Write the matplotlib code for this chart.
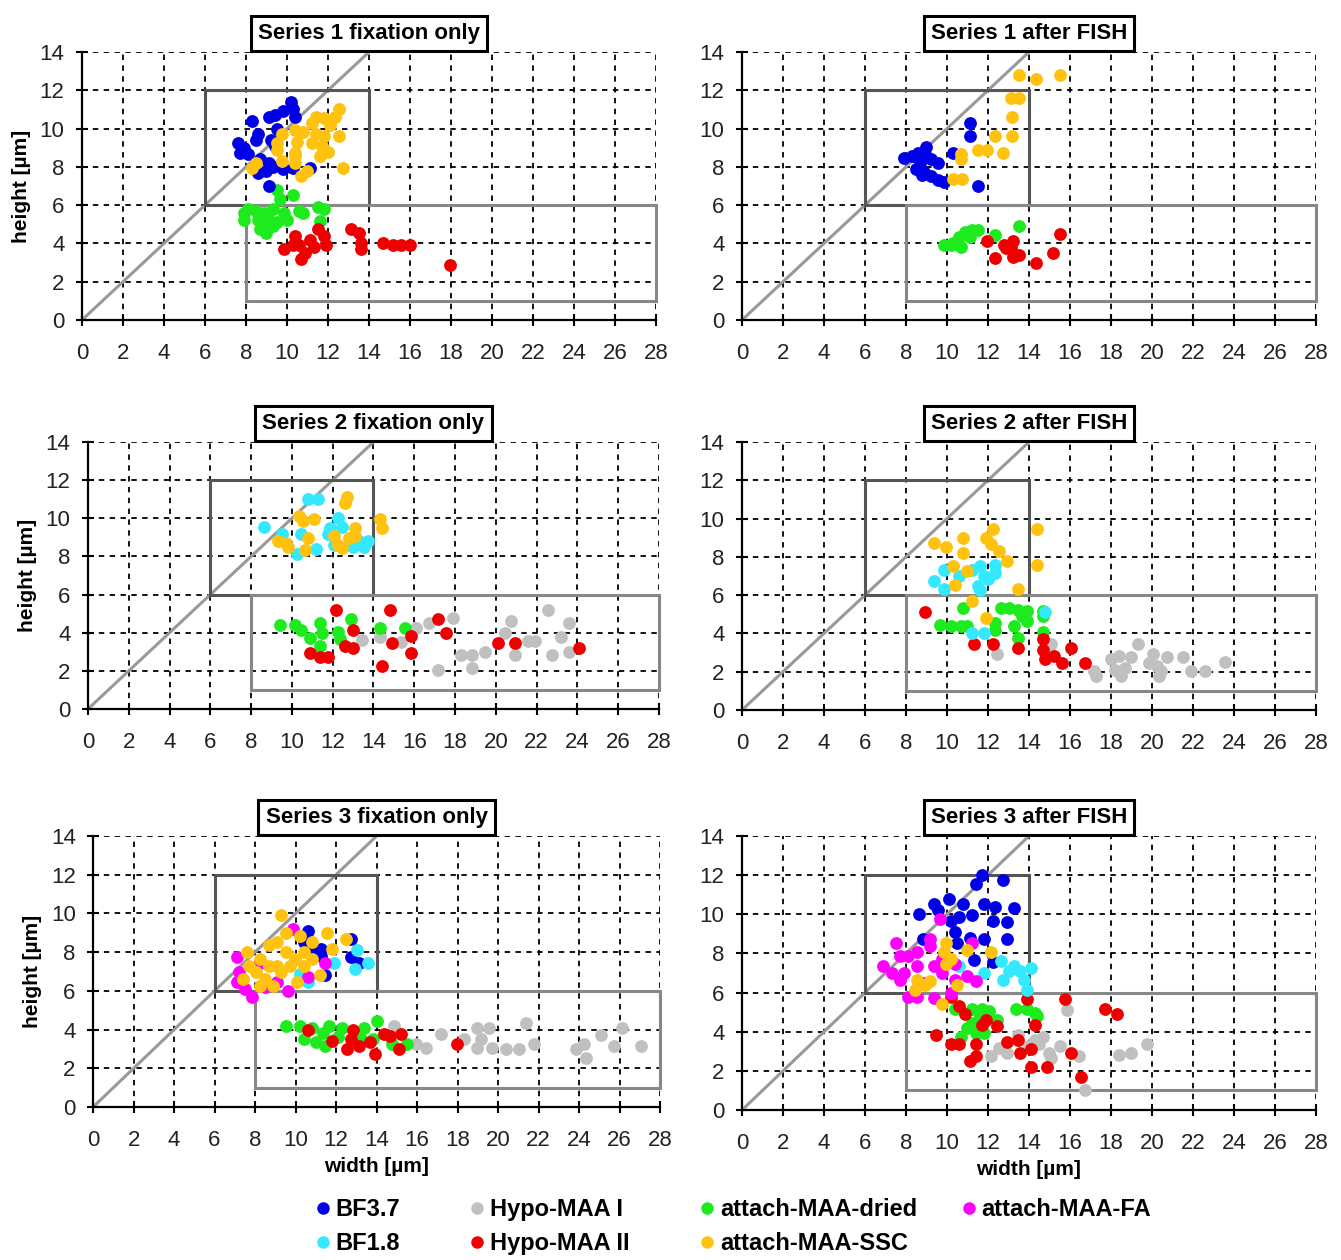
import matplotlib
matplotlib.use('Agg')
import matplotlib.pyplot as plt
from matplotlib.patches import Rectangle
from matplotlib.lines import Line2D

plt.rcParams['font.family'] = ['Liberation Sans', 'DejaVu Sans']

# series names and colours
series_names = ['BF3.7', 'BF1.8', 'Hypo-MAA I', 'Hypo-MAA II',
                'attach-MAA-dried', 'attach-MAA-SSC', 'attach-MAA-FA']
series_colors = ['#0000E6', '#33E8FF', '#C0C0C0', '#EE0000',
                 '#1EEB1E', '#FFC20E', '#FF00FF']

# ---- Series 1 fixation only (width, height) ----
s1fix_bf37 = [(10.2, 11.4), (10.3, 11.0), (9.4, 10.7), (9.8, 10.9), (9.1, 10.6), (8.3, 10.4),
              (10.4, 10.6), (9.5, 10.0), (8.6, 9.7), (8.5, 9.4), (7.6, 9.25), (7.9, 9.0),
              (7.7, 8.7), (8.1, 8.65), (8.7, 8.4), (9.1, 8.2), (9.3, 8.0), (8.6, 7.7),
              (9.0, 7.8), (9.8, 7.9), (10.3, 7.95), (11.1, 7.95), (9.1, 7.0), (9.4, 9.1),
              (9.2, 9.4)]
s1fix_ssc = [(12.55, 11.0), (12.35, 10.6), (11.8, 10.55), (11.2, 10.3), (12.1, 10.2),
             (10.4, 9.95), (10.8, 9.8), (9.75, 9.7), (11.4, 9.7), (11.8, 9.6), (12.55, 9.6),
             (9.5, 9.25), (10.5, 9.3), (11.2, 9.25), (11.7, 9.1), (9.5, 8.9), (10.4, 8.7),
             (12.0, 8.8), (11.6, 8.55), (9.75, 8.3), (10.4, 8.2), (8.5, 8.2), (8.3, 7.95),
             (11.0, 7.8), (10.7, 7.5), (12.75, 7.95), (10.4, 8.55), (11.4, 10.6)]
s1fix_dried = [(9.5, 6.8), (9.65, 6.3), (10.3, 6.55), (7.9, 5.6), (8.1, 5.8), (8.5, 5.7),
               (8.9, 5.6), (9.3, 5.8), (9.85, 5.6), (10.6, 5.7), (10.8, 5.6), (11.5, 5.9),
               (11.8, 5.8), (7.9, 5.2), (8.6, 5.25), (9.1, 5.2), (9.5, 5.1), (10.0, 5.25),
               (8.7, 4.75), (9.0, 4.55), (9.3, 4.9), (11.6, 5.15), (8.8, 5.0)]
s1fix_hypo2 = [(9.85, 3.7), (10.4, 4.4), (10.6, 3.9), (10.9, 3.5), (10.7, 3.2), (11.1, 4.2),
               (11.3, 3.8), (11.5, 4.75), (11.8, 4.4), (11.9, 3.9), (13.1, 4.75), (13.5, 4.55),
               (13.6, 4.05), (13.6, 3.7), (14.7, 4.05), (15.15, 3.9), (15.55, 3.9), (16.0, 3.9),
               (17.95, 2.9), (10.3, 3.9)]

# ---- Series 1 after FISH ----
s1fish_bf37 = [(11.1, 10.3), (11.1, 9.6), (7.9, 8.45), (8.3, 8.55), (8.6, 8.7), (9.0, 9.05),
               (9.0, 8.55), (8.7, 8.2), (9.2, 8.4), (9.55, 8.2), (8.5, 7.9), (8.9, 7.75),
               (9.2, 7.5), (9.55, 7.3), (9.85, 7.2), (10.3, 8.7), (11.5, 7.0), (8.8, 7.6)]
s1fish_ssc = [(13.5, 12.8), (14.35, 12.6), (15.5, 12.8), (13.1, 11.6), (13.5, 11.6),
              (13.15, 10.6), (13.15, 9.6), (12.35, 9.6), (11.5, 8.9), (11.95, 8.9),
              (12.75, 8.7), (10.7, 8.65), (10.7, 8.4), (10.3, 7.35), (10.75, 7.35)]
s1fish_dried = [(9.85, 3.9), (10.3, 4.05), (10.6, 4.35), (10.9, 4.6), (11.2, 4.7), (11.5, 4.7),
                (10.7, 3.8), (11.1, 4.35), (12.35, 4.45), (13.5, 4.9), (10.2, 3.9)]
s1fish_hypo2 = [(11.95, 4.15), (12.35, 3.25), (12.8, 3.9), (13.2, 4.15), (13.1, 3.75),
                (13.2, 3.3), (13.5, 3.4), (14.35, 3.0), (15.15, 3.5), (15.5, 4.5), (12.9, 3.75)]

# ---- Series 2 fixation only ----
s2fix_bf18 = [(10.8, 11.0), (11.3, 11.0), (8.65, 9.55), (9.5, 9.2), (10.45, 9.2), (11.85, 9.5),
              (12.25, 10.0), (12.45, 9.55), (10.25, 8.15), (11.2, 8.4), (12.05, 8.6), (13.0, 8.5),
              (13.3, 8.8), (13.75, 8.8), (13.55, 8.5), (11.75, 9.2)]
s2fix_ssc = [(12.7, 11.1), (12.6, 10.8), (10.35, 10.1), (10.55, 9.85), (11.1, 9.95), (14.3, 9.95),
             (14.4, 9.5), (13.1, 9.5), (9.3, 8.8), (9.7, 8.7), (9.8, 8.5), (10.8, 8.95),
             (12.05, 9.05), (12.25, 8.6), (12.8, 8.95), (12.45, 8.45), (10.65, 8.35), (13.1, 9.05)]
s2fix_dried = [(9.4, 4.4), (10.15, 4.4), (10.45, 4.15), (10.9, 3.7), (11.4, 4.5), (11.5, 4.0),
               (11.4, 3.3), (12.25, 4.05), (12.35, 3.65), (12.9, 4.7), (14.3, 4.25), (15.55, 4.25)]
s2fix_hypo2 = [(12.15, 5.2), (14.8, 5.2), (10.9, 2.95), (11.4, 2.75), (11.75, 2.75), (12.6, 3.3),
               (13.0, 4.15), (13.0, 3.2), (14.4, 2.25), (14.9, 3.45), (15.85, 3.85), (15.85, 2.95),
               (17.15, 4.7), (17.55, 4.0), (20.1, 3.45), (20.95, 3.45), (24.1, 3.2)]
s2fix_hypo1 = [(13.45, 3.6), (14.3, 3.8), (15.35, 3.5), (16.1, 4.25), (16.7, 4.5), (17.15, 2.05),
               (17.9, 4.75), (18.3, 2.85), (18.85, 2.85), (18.85, 2.15), (19.45, 3.0), (20.45, 4.0),
               (20.75, 4.6), (20.95, 2.85), (21.6, 3.55), (21.9, 3.55), (22.55, 5.2), (22.75, 2.85),
               (23.2, 3.8), (23.6, 4.5), (23.6, 3.0)]

# ---- Series 2 after FISH ----
s2fish_ssc = [(9.35, 8.75), (9.95, 8.5), (10.8, 9.0), (10.8, 8.2), (11.9, 9.0), (12.25, 9.45),
              (12.15, 8.65), (12.55, 8.3), (12.95, 7.8), (14.4, 9.45), (14.4, 7.6), (10.3, 7.5),
              (11.0, 7.25), (10.4, 6.55), (13.45, 6.3), (11.2, 5.7), (11.9, 4.8)]
s2fish_bf18 = [(9.35, 6.75), (9.85, 6.3), (9.85, 7.3), (10.6, 7.0), (11.2, 7.3), (11.6, 7.5),
               (11.8, 7.0), (12.35, 7.15), (12.35, 7.6), (11.5, 6.5), (11.6, 6.25), (11.2, 4.0),
               (11.8, 4.0), (14.8, 5.1), (12.0, 6.85)]
s2fish_dried = [(9.65, 4.45), (10.2, 4.4), (10.7, 4.4), (11.0, 4.4), (10.8, 5.35), (12.35, 4.55),
                (12.35, 4.2), (12.65, 5.35), (13.05, 5.35), (13.45, 5.25), (13.25, 4.4),
                (13.65, 4.9), (13.9, 4.65), (13.45, 3.75), (14.7, 5.15), (14.7, 4.9),
                (14.7, 4.05), (13.9, 5.15)]
s2fish_hypo2 = [(8.95, 5.1), (11.3, 3.45), (12.25, 3.45), (13.45, 3.25), (14.7, 3.7), (14.7, 3.15),
                (14.8, 2.65), (15.2, 2.8), (15.6, 2.45), (16.05, 3.25), (16.75, 2.45)]
s2fish_hypo1 = [(12.45, 2.9), (15.1, 3.45), (17.15, 2.05), (17.25, 1.8), (18.0, 2.65), (18.2, 2.1),
                (18.4, 2.8), (18.5, 1.8), (18.7, 2.2), (19.0, 2.75), (19.3, 3.45), (19.85, 2.45),
                (20.05, 2.95), (20.35, 1.8), (20.45, 2.05), (20.75, 2.75), (21.5, 2.75),
                (21.9, 2.05), (22.6, 2.05), (23.55, 2.5), (20.25, 2.3)]

# ---- Series 3 fixation only ----
s3fix_ssc = [(9.3, 9.9), (10.2, 8.85), (11.55, 9.0), (12.5, 8.7), (11.8, 8.15), (7.6, 8.0),
             (8.25, 7.65), (8.7, 8.35), (9.1, 8.5), (9.55, 8.0), (9.95, 7.65), (10.4, 8.0),
             (10.8, 7.65), (10.8, 8.5), (8.05, 6.95), (8.5, 6.6), (8.9, 6.25), (9.3, 6.95),
             (9.75, 7.3), (10.05, 6.45), (11.2, 6.8), (7.7, 7.3), (7.4, 6.6), (8.25, 6.25),
             (9.1, 7.3), (10.4, 7.3), (9.55, 9.0), (8.7, 7.3)]
s3fix_fa = [(7.1, 7.75), (7.2, 6.95), (7.1, 6.45), (7.5, 6.1), (7.85, 5.7), (8.5, 6.2),
            (9.65, 6.0), (9.85, 9.2), (10.6, 6.7), (11.45, 7.45), (9.1, 6.45), (8.25, 7.45)]
s3fix_bf37 = [(10.6, 9.1), (11.25, 8.15), (11.25, 7.8), (10.4, 8.5), (11.45, 6.8), (12.75, 8.7),
              (12.75, 7.75), (13.15, 7.45), (10.8, 8.0)]
s3fix_bf18 = [(13.05, 8.1), (13.6, 7.45), (12.95, 7.15), (11.9, 7.45), (10.6, 6.45), (10.2, 6.85)]
s3fix_dried = [(9.55, 4.2), (10.2, 4.2), (10.8, 4.1), (11.65, 4.2), (12.3, 4.1), (13.4, 4.1),
               (14.0, 4.45), (10.4, 3.5), (11.0, 3.35), (11.45, 3.15), (12.1, 3.6), (13.8, 3.5),
               (14.75, 3.25), (15.5, 3.25), (11.35, 3.85), (13.25, 3.5)]
s3fix_hypo2 = [(10.6, 4.0), (11.8, 3.4), (12.85, 4.0), (12.75, 3.5), (12.55, 3.0), (13.15, 3.15),
               (13.7, 3.35), (13.9, 2.75), (14.35, 3.75), (14.65, 3.65), (15.2, 3.75),
               (15.1, 3.0), (17.95, 3.25)]
s3fix_hypo1 = [(14.85, 4.2), (15.95, 3.25), (16.45, 3.05), (17.2, 3.75), (18.3, 3.5), (18.95, 4.1),
               (19.55, 4.1), (18.95, 3.05), (19.15, 3.5), (19.7, 3.05), (20.4, 3.0), (21.05, 3.0),
               (21.4, 4.35), (21.8, 3.25), (23.85, 3.0), (24.25, 3.25), (24.35, 2.55),
               (25.1, 3.7), (25.75, 3.15), (26.1, 4.1), (27.05, 3.15)]

# ---- Series 3 after FISH ----
s3fish_bf37 = [(11.7, 12.0), (11.4, 11.55), (12.75, 11.75), (8.65, 10.0), (9.35, 10.55),
               (10.1, 10.8), (9.55, 10.2), (10.8, 10.55), (11.2, 9.95), (11.8, 10.55),
               (12.35, 10.35), (12.25, 9.65), (13.25, 10.3), (12.95, 9.6), (10.4, 9.1),
               (10.6, 9.85), (11.8, 8.75), (12.95, 8.75), (11.1, 8.8), (12.25, 7.55),
               (11.3, 7.65), (8.85, 8.75), (10.2, 9.65), (10.5, 8.55)]
s3fish_fa = [(7.5, 8.55), (6.9, 7.35), (7.3, 7.0), (7.7, 6.65), (8.1, 7.85), (8.55, 7.35),
             (9.15, 8.4), (9.15, 8.75), (9.65, 9.75), (9.35, 7.35), (9.75, 7.7), (9.75, 7.0),
             (10.4, 7.45), (10.4, 6.65), (11.0, 6.85), (11.4, 6.6), (11.2, 8.55), (8.1, 5.8),
             (8.55, 5.8), (9.35, 5.75), (7.9, 7.0), (7.7, 7.85), (8.85, 6.5), (10.2, 6.0),
             (8.55, 8.05)]
s3fish_ssc = [(9.95, 8.55), (9.85, 8.05), (10.2, 7.7), (9.95, 7.45), (11.0, 8.2), (12.15, 8.05),
              (8.55, 6.65), (9.15, 6.6), (8.45, 6.15), (10.5, 6.4), (9.75, 5.4), (8.95, 6.4)]
s3fish_bf18 = [(10.6, 7.35), (11.8, 7.0), (12.65, 7.6), (12.75, 6.65), (13.25, 7.35),
               (13.55, 7.1), (14.1, 7.25), (13.75, 6.65), (13.9, 6.15), (13.05, 7.1)]
s3fish_dried = [(10.4, 5.15), (11.2, 5.15), (11.7, 5.15), (12.05, 5.05), (11.2, 4.45),
                (11.4, 3.95), (11.0, 4.2), (11.8, 3.95), (12.45, 4.6), (13.35, 5.15),
                (13.9, 5.15), (14.3, 4.95), (14.4, 4.8), (10.7, 3.75), (11.6, 4.8)]
s3fish_hypo2 = [(13.9, 5.65), (15.75, 5.65), (17.7, 5.15), (18.3, 4.9), (10.2, 5.8), (10.6, 5.3),
                (10.9, 4.9), (9.45, 3.85), (10.2, 3.4), (10.6, 3.4), (11.4, 3.4), (11.1, 2.5),
                (11.4, 2.75), (11.7, 4.35), (11.9, 4.6), (12.45, 4.3), (12.95, 3.5), (13.45, 3.6),
                (13.55, 2.9), (14.1, 3.1), (14.3, 4.35), (14.1, 2.2), (14.9, 2.2), (16.05, 2.9),
                (16.55, 1.7)]
s3fish_hypo1 = [(12.15, 2.75), (12.55, 3.15), (12.95, 2.9), (13.45, 3.85), (14.0, 3.25),
                (14.3, 3.6), (14.7, 3.75), (15.0, 2.9), (15.1, 2.65), (15.5, 3.25), (15.85, 5.1),
                (16.45, 2.75), (16.75, 1.05), (18.4, 2.8), (19.0, 2.9), (19.75, 3.4), (14.5, 3.4)]

panel_titles = ['Series 1 fixation only', 'Series 1 after FISH',
                'Series 2 fixation only', 'Series 2 after FISH',
                'Series 3 fixation only', 'Series 3 after FISH']

# drawing order per panel: (series index, points)
panel_data = [
    [(4, s1fix_dried), (3, s1fix_hypo2), (0, s1fix_bf37), (5, s1fix_ssc)],
    [(4, s1fish_dried), (3, s1fish_hypo2), (0, s1fish_bf37), (5, s1fish_ssc)],
    [(2, s2fix_hypo1), (4, s2fix_dried), (3, s2fix_hypo2), (1, s2fix_bf18), (5, s2fix_ssc)],
    [(2, s2fish_hypo1), (4, s2fish_dried), (3, s2fish_hypo2), (1, s2fish_bf18), (5, s2fish_ssc)],
    [(2, s3fix_hypo1), (4, s3fix_dried), (3, s3fix_hypo2), (0, s3fix_bf37), (1, s3fix_bf18),
     (6, s3fix_fa), (5, s3fix_ssc)],
    [(2, s3fish_hypo1), (4, s3fish_dried), (3, s3fish_hypo2), (0, s3fish_bf37), (1, s3fish_bf18),
     (6, s3fish_fa), (5, s3fish_ssc)],
]

# axes rectangles in figure fractions [left, bottom, width, height]
axes_rects = [
    [0.0611, 0.746, 0.4281, 0.2127], [0.5533, 0.746, 0.428, 0.2127],
    [0.0656, 0.4373, 0.4258, 0.2119], [0.5533, 0.4365, 0.428, 0.2127],
    [0.0694, 0.1214, 0.4228, 0.2151], [0.5533, 0.119, 0.428, 0.2175],
]

tick_font = ['Liberation Sans Narrow', 'Liberation Sans', 'DejaVu Sans']

fig = plt.figure(figsize=(13.41, 12.6), dpi=100)

for i in range(6):
    ax = fig.add_axes(axes_rects[i])
    ax.set_xlim(0, 28)
    ax.set_ylim(0, 14)
    ax.set_xticks(range(0, 29, 2))
    ax.set_yticks(range(0, 15, 2))
    ax.grid(True, color='black', linestyle=(0, (3, 3)), linewidth=1.3)
    ax.set_axisbelow(True)
    for side in ['top', 'right']:
        ax.spines[side].set_visible(False)
    for side in ['left', 'bottom']:
        ax.spines[side].set_linewidth(1.6)
    ax.tick_params(direction='inout', length=9, width=1.5)
    ax.tick_params(axis='x', pad=12)
    ax.tick_params(axis='y', pad=8)
    for lab in ax.get_xticklabels() + ax.get_yticklabels():
        lab.set_family(tick_font)
        lab.set_fontsize(16)
        lab.set_color('#222222')

    # diagonal and category boxes
    ax.plot([0, 14], [0, 14], color='#999999', linewidth=2.2, zorder=2)
    ax.add_patch(Rectangle((6, 6), 8, 6, fill=False, edgecolor='#555555', linewidth=2.2, zorder=2))
    ax.add_patch(Rectangle((8, 1), 20, 5, fill=False, edgecolor='#888888', linewidth=2.2,
                           zorder=2, clip_on=False))

    for idx, pts in panel_data[i]:
        xs = [p[0] for p in pts]
        ys = [p[1] for p in pts]
        ax.scatter(xs, ys, s=85, color=series_colors[idx], linewidths=0, zorder=3)

    ax.text(0.5, 1.03, panel_titles[i], transform=ax.transAxes, ha='center', va='bottom',
            fontsize=16, fontweight='bold', zorder=5,
            bbox=dict(boxstyle='square,pad=0.32', facecolor='white', edgecolor='black',
                      linewidth=2.2))

    if i % 2 == 0:
        ax.set_ylabel('height [µm]', fontsize=15, fontweight='bold', labelpad=6)
    if i >= 4:
        ax.set_xlabel('width [µm]', fontsize=15, fontweight='bold', labelpad=4)

# legend: four columns placed separately
legend_cols = [[0, 1], [2, 3], [4, 5], [6]]
legend_x = [0.2345, 0.3494, 0.5209, 0.7162]
for col, x in zip(legend_cols, legend_x):
    handles = [Line2D([], [], linestyle='none', marker='o', markersize=9,
                      markerfacecolor=series_colors[k], markeredgewidth=0) for k in col]
    labels = [series_names[k] for k in col]
    fig.legend(handles, labels, loc='upper left', bbox_to_anchor=(x, 0.049),
               frameon=False, borderpad=0, borderaxespad=0, handlelength=0.7,
               handletextpad=0.2, labelspacing=0.45,
               prop={'family': 'Liberation Sans', 'weight': 'bold', 'size': 17})

fig.savefig('out.png', dpi=100)
